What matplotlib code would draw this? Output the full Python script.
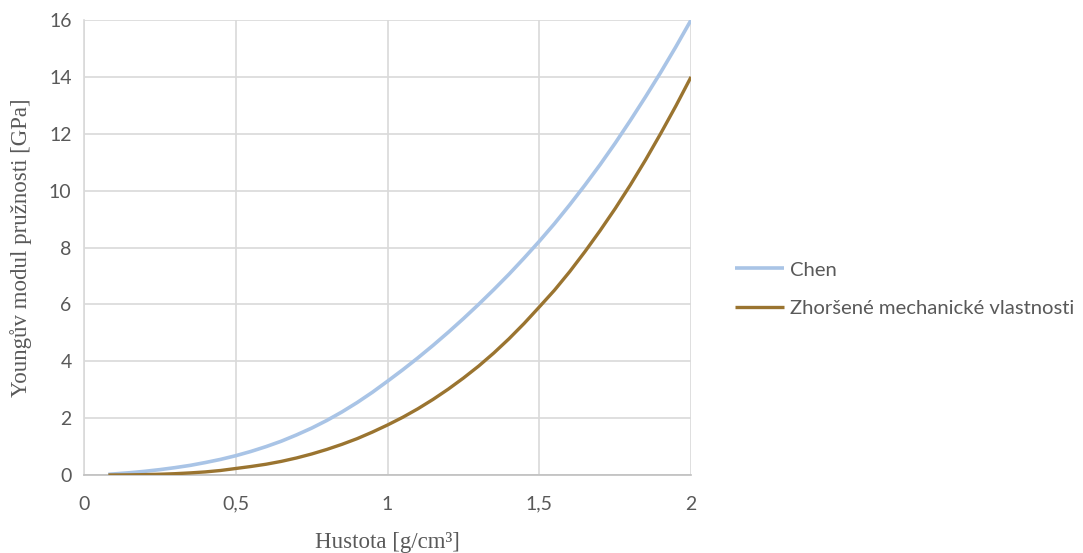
import matplotlib
matplotlib.use("Agg")
import matplotlib.pyplot as plt

# Density [g/cm3] and Young's modulus [GPa] for the two material models
hustota = [0.08, 0.1, 0.15, 0.2, 0.25, 0.3, 0.35, 0.4, 0.45, 0.5, 0.55, 0.6,
           0.65, 0.7, 0.75, 0.8, 0.85, 0.9, 0.95, 1.0, 1.05, 1.1, 1.15, 1.2,
           1.25, 1.3, 1.35, 1.4, 1.45, 1.5, 1.55, 1.6, 1.65, 1.7, 1.75, 1.8,
           1.85, 1.9, 1.95, 2.0]
chen = [0.025, 0.04, 0.08, 0.13, 0.19, 0.26, 0.34, 0.44, 0.55, 0.68, 0.83, 1.0,
        1.19, 1.41, 1.65, 1.92, 2.22, 2.55, 2.91, 3.3, 3.7, 4.12, 4.56, 5.02,
        5.5, 6.0, 6.52, 7.06, 7.63, 8.22, 8.84, 9.5, 10.19, 10.91, 11.67, 12.47,
        13.3, 14.16, 15.06, 16.0]
zhorsene = [0.001, 0.002, 0.006, 0.014, 0.028, 0.047, 0.075, 0.11, 0.16, 0.23,
            0.30, 0.38, 0.48, 0.60, 0.74, 0.90, 1.08, 1.28, 1.51, 1.76, 2.03,
            2.33, 2.66, 3.02, 3.41, 3.83, 4.29, 4.79, 5.33, 5.91, 6.5, 7.15,
            7.85, 8.59, 9.37, 10.2, 11.08, 12.01, 12.98, 14.0]

x_ticks = [0, 0.5, 1, 1.5, 2]
x_ticklabels = ["0", "0,5", "1", "1,5", "2"]
y_ticks = [0, 2, 4, 6, 8, 10, 12, 14, 16]

series_labels = ["Chen", "Zhoršené mechanické vlastnosti"]
series_colors = ["#A9C4E6", "#9A7430"]

fig = plt.figure(figsize=(10.83, 5.53), dpi=100)
ax = fig.add_axes([0.0776, 0.141, 0.5605, 0.8228])

ax.plot(hustota, chen, color=series_colors[0], lw=2.6, label=series_labels[0],
        solid_capstyle="butt", solid_joinstyle="round", zorder=3)
ax.plot(hustota, zhorsene, color=series_colors[1], lw=2.4, label=series_labels[1],
        solid_capstyle="butt", solid_joinstyle="round", zorder=4)

ax.set_xlim(0, 2)
ax.set_ylim(0, 16)
ax.set_xticks(x_ticks)
ax.set_xticklabels(x_ticklabels)
ax.set_yticks(y_ticks)

tick_font = "Lato"
for lab in ax.get_xticklabels() + ax.get_yticklabels():
    lab.set_fontfamily(tick_font)
    lab.set_fontsize(14)
    lab.set_color("#595959")
ax.tick_params(axis="both", length=0)
ax.tick_params(axis="x", pad=15)
ax.tick_params(axis="y", pad=9)

ax.grid(True, color="#D9D9D9", lw=1.2, zorder=0)
ax.set_axisbelow(True)
for side in ["top", "right"]:
    ax.spines[side].set_visible(False)
ax.spines["left"].set_color("#D9D9D9")
ax.spines["left"].set_linewidth(1.2)
ax.spines["bottom"].set_color("#BFBFBF")
ax.spines["bottom"].set_linewidth(1.2)

ax.set_xlabel("Hustota [g/cm³]", fontfamily="Liberation Serif", fontsize=16.5,
              color="#595959", labelpad=14)
ax.set_ylabel("Youngův modul pružnosti [GPa]", fontfamily="Liberation Serif",
              fontsize=16.5, color="#595959", labelpad=12)

leg = ax.legend(loc="center left", bbox_to_anchor=(0.6787, 0.477),
                bbox_transform=fig.transFigure, frameon=False,
                borderpad=0, borderaxespad=0,
                handlelength=2.4, handletextpad=0.3, labelspacing=1.05,
                prop={"family": tick_font, "size": 14.6})
for t in leg.get_texts():
    t.set_color("#595959")

fig.savefig("out.png", dpi=100)
